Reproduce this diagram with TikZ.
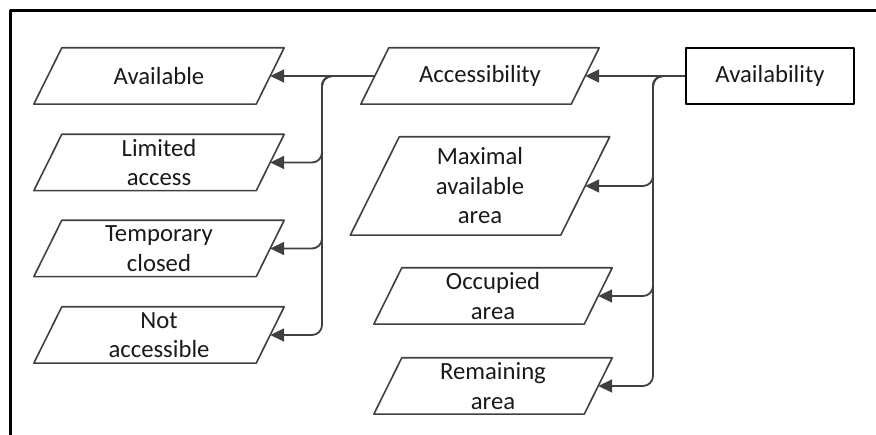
\documentclass[tikz,border=0pt]{standalone}
\usepackage{fontspec}
\setmainfont{Carlito}
\usetikzlibrary{arrows.meta,calc}
\definecolor{linegray}{HTML}{404040}
\begin{document}
\begin{tikzpicture}[x=1pt, y=-1pt, line join=round, >={Triangle[length=14pt,width=13pt]},
	every node/.style={font=\fontsize{24.7}{29.5}\selectfont, align=center, inner sep=0pt, text=black!90},
	leaf/.style={minimum width=222pt, minimum height=56pt},
	mid/.style={minimum width=210pt, minimum height=56pt},
	para/.style={draw=linegray, line width=1.6pt},
	conn/.style={draw=linegray, line width=1.8pt, rounded corners=10pt, ->}]
	\useasboundingbox (0,0) rectangle (876,435);
	% frame
	\draw[line width=3pt] (880,11) -- (10,11) -- (10,440);
	
	\node[minimum width=168pt, minimum height=56pt, draw=black, line width=2.4pt] (availability) at (770,76) {Availability};
	\node[mid] (access) at (480,76) {Accessibility};
	\node[mid, minimum height=98pt] (maxarea) at (480,186) {Maximal\\available\\area};
	\node[mid] (occupied) at (493,296) {Occupied\\area};
	\node[mid] (remaining) at (493,386) {Remaining\\area};
	\node[leaf] (available) at (159,76) {Available};
	\node[leaf] (limited) at (159,162.5) {Limited\\access};
	\node[leaf] (temporary) at (159,248.5) {Temporary\\closed};
	\node[leaf] (notaccess) at (159,335) {Not\\accessible};
	
	% parallelograms round the nodes
	\foreach \n/\s in {available/14,limited/14,temporary/14,notaccess/14,access/14,maxarea/24.5,occupied/14,remaining/14}
	\draw[para] ($(\n.south west)+(-\s,0)$) -- ($(\n.north west)+(\s,0)$) -- ($(\n.north east)+(\s,0)$) -- ($(\n.south east)+(-\s,0)$) -- cycle;
	
	\coordinate (rtrunk) at (653,76);
	\coordinate (ltrunk) at (322,76);
	\draw[conn] (availability.west) -- (access.east);
	\foreach \t in {maxarea,occupied,remaining}\draw[conn] (availability.west) -- (rtrunk) |- (\t.east);
	\draw[conn] (access.west) -- (available.east);
	\foreach \t in {limited,temporary,notaccess}\draw[conn] (access.west) -- (ltrunk) |- (\t.east);
\end{tikzpicture}
\end{document}
